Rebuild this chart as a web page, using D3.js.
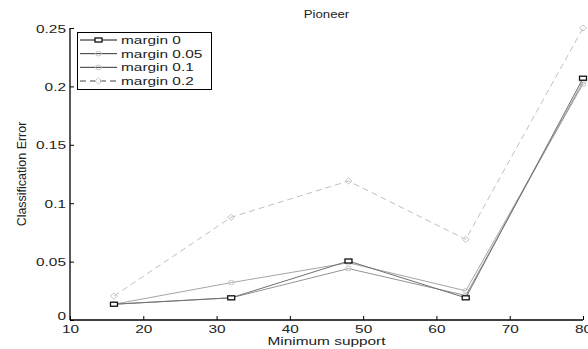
<!DOCTYPE html>
<html>
<head>
<meta charset="utf-8">
<script src="https://cdn.jsdelivr.net/npm/d3@7"></script>
<style>
  html, body { margin: 0; padding: 0; background: #fff; }
  svg { display: block; }
  text { font-family: "Liberation Sans", Arial, sans-serif; fill: #222; }
</style>
</head>
<body>
<svg id="chart" width="588" height="349"></svg>
<script>
// Minimum support levels on the x axis
const support = [16, 32, 48, 64, 80];

// Classification error per margin setting
const margin0   = [0.0135, 0.019, 0.0505, 0.019, 0.207];
const margin005 = [0.0135, 0.019, 0.044, 0.021, 0.204];
const margin01  = [0.0135, 0.032, 0.049, 0.025, 0.202];
const margin02  = [0.0205, 0.088, 0.119, 0.069, 0.25];

const seriesNames = ["margin 0", "margin 0.05", "margin 0.1", "margin 0.2"];

const xTicks = [10, 20, 30, 40, 50, 60, 70, 80];
const yTicks = [0, 0.05, 0.1, 0.15, 0.2, 0.25];
const yTickLabels = ["0", "0.05", "0.1", "0.15", "0.2", "0.25"];

const series = [
  { name: seriesNames[0], values: margin0,   color: "#707070", legend: "#111", dash: null,  marker: "square" },
  { name: seriesNames[1], values: margin005, color: "#959595", legend: "#333", dash: null,  marker: "circle" },
  { name: seriesNames[2], values: margin01,  color: "#a5a5a5", legend: "#333", dash: null,  marker: "circle" },
  { name: seriesNames[3], values: margin02,  color: "#c0c0c0", legend: "#444", dash: "6,4", marker: "diamond" }
];

const svg = d3.select("#chart");
const SX = 1.4; // horizontal text stretch

const x = d3.scaleLinear().domain([10, 80]).range([70, 583]);
const y = d3.scaleLinear().domain([0, 0.25]).range([320, 28]);

// Axes: inward ticks, no box
const xAxis = svg.append("g").attr("transform", `translate(0,${y(0)})`)
  .call(d3.axisTop(x).tickValues(xTicks).tickSize(4).tickFormat(d3.format("d")));
xAxis.select(".domain").attr("stroke", "#000").attr("stroke-width", 1.3).attr("d", `M${x(10)},0H${x(80)}`);
xAxis.selectAll(".tick line").attr("stroke", "#000");
xAxis.selectAll(".tick text")
  .attr("y", 0).attr("dy", null)
  .attr("transform", `translate(0,13) scale(${SX},1)`)
  .attr("font-size", 11).attr("font-family", "Liberation Sans, Arial, sans-serif")
  .attr("fill", "#222");

const yAxis = svg.append("g").attr("transform", `translate(${x(10)},0)`)
  .call(d3.axisRight(y).tickValues(yTicks).tickSize(4).tickFormat((d, i) => yTickLabels[i]));
yAxis.select(".domain").attr("stroke", "#000").attr("stroke-width", 1.3).attr("d", `M0,${y(0)}V${y(0.25)}`);
yAxis.selectAll(".tick line").attr("stroke", "#000");
yAxis.selectAll(".tick text")
  .attr("x", 0).attr("dy", null).attr("text-anchor", "end")
  .attr("transform", d => `translate(-4,${d === 0 ? -1 : 4}) scale(${SX},1)`)
  .attr("font-size", 11).attr("font-family", "Liberation Sans, Arial, sans-serif")
  .attr("fill", "#222");

// Titles
svg.append("text").attr("text-anchor", "middle")
  .attr("transform", `translate(${(x(10) + x(80)) / 2},18) scale(1.2,1)`)
  .attr("font-size", 11).text("Pioneer");
svg.append("text").attr("text-anchor", "middle")
  .attr("transform", `translate(${(x(10) + x(80)) / 2},345) scale(${SX},1)`)
  .attr("font-size", 11).text("Minimum support");
svg.append("text").attr("text-anchor", "middle")
  .attr("transform", `translate(26,${(y(0) + y(0.25)) / 2}) scale(1.05,1) rotate(-90)`)
  .attr("font-size", 12.5).text("Classification Error");

// Marker drawing
function drawMarker(g, type, cx, cy) {
  if (type === "square") {
    g.append("rect").attr("x", cx - 3.5).attr("y", cy - 2).attr("width", 7).attr("height", 4)
      .attr("fill", "#fff").attr("stroke", "#111").attr("stroke-width", 1.3);
  } else if (type === "circle") {
    g.append("ellipse").attr("cx", cx).attr("cy", cy).attr("rx", 3).attr("ry", 2.3)
      .attr("fill", "none").attr("stroke", "#c8c8c8").attr("stroke-width", 1);
  } else {
    g.append("path")
      .attr("d", `M${cx - 3.5},${cy}L${cx},${cy - 3}L${cx + 3.5},${cy}L${cx},${cy + 3}Z`)
      .attr("fill", "none").attr("stroke", "#c8c8c8").attr("stroke-width", 1);
  }
}

const line = d3.line().x((d, i) => x(support[i])).y(d => y(d));

// Draw lines back to front so margin 0 sits on top
const plot = svg.append("g");
series.slice().reverse().forEach(s => {
  plot.append("path").datum(s.values).attr("d", line)
    .attr("fill", "none").attr("stroke", s.color).attr("stroke-width", 1)
    .attr("stroke-dasharray", s.dash);
  const mg = plot.append("g");
  s.values.forEach((v, i) => drawMarker(mg, s.marker, x(support[i]), y(v)));
});

// Legend
const lg = svg.append("g");
lg.append("rect").attr("x", 77.5).attr("y", 32.5).attr("width", 134).attr("height", 57)
  .attr("fill", "#fff").attr("stroke", "#000").attr("stroke-width", 1);
const legendY = d3.scalePoint().domain(seriesNames).range([40, 81]);
series.forEach(s => {
  const ly = legendY(s.name);
  lg.append("line").attr("x1", 80).attr("x2", 117).attr("y1", ly).attr("y2", ly)
    .attr("stroke", s.legend).attr("stroke-width", 1)
    .attr("stroke-dasharray", s.dash);
  drawMarker(lg, s.marker, 98.5, ly);
  lg.append("text").attr("transform", `translate(121,${ly + 4}) scale(${SX},1)`)
    .attr("font-size", 11).text(s.name);
});
</script>
</body>
</html>
